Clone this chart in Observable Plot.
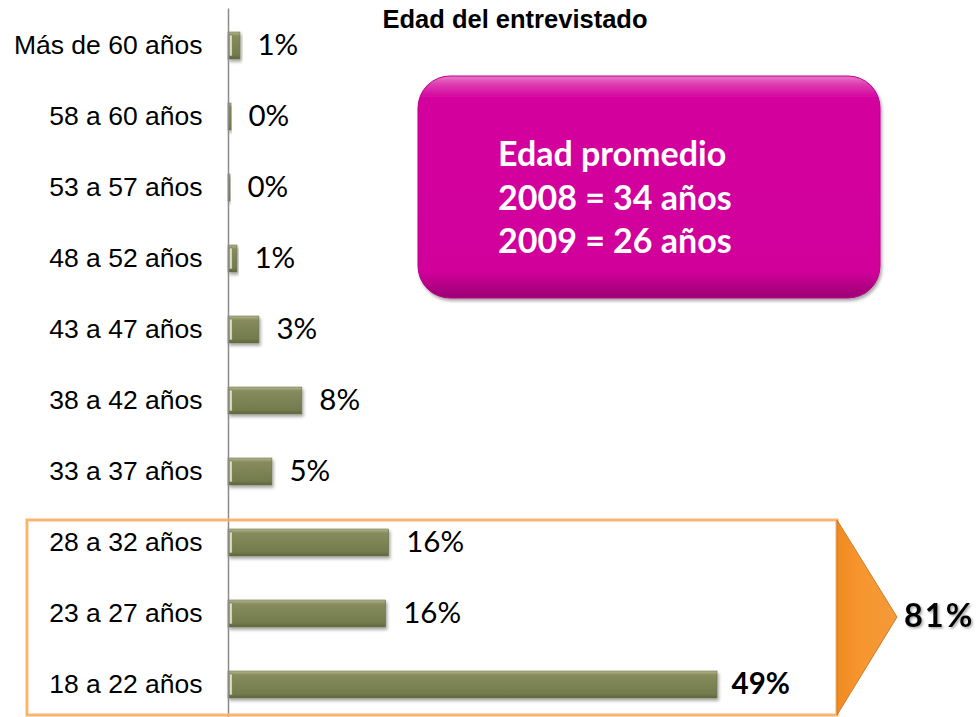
<!DOCTYPE html>
<html>
<head>
<meta charset="utf-8">
<script src="https://cdn.jsdelivr.net/npm/d3@7"></script>
<script src="https://cdn.jsdelivr.net/npm/@observablehq/plot@0.6"></script>
<style>
  html, body { margin: 0; padding: 0; background: #fff; }
  #chart svg { display: block; }
</style>
</head>
<body>
<div id="chart"></div>
<script>
const categories = ["Más de 60 años","58 a 60 años","53 a 57 años","48 a 52 años","43 a 47 años","38 a 42 años","33 a 37 años","28 a 32 años","23 a 27 años","18 a 22 años"];
const values = [1.2, 0.3, 0.2, 0.9, 3.1, 7.4, 4.4, 16.1, 15.8, 49.0];
const valueLabels = ["1%","0%","0%","1%","3%","8%","5%","16%","16%","49%"];
const boldLabel = [false,false,false,false,false,false,false,false,false,true];
const title = "Edad del entrevistado";
const boxLines = ["Edad promedio","2008 = 34 años","2009 = 26 años"];
const groupTotal = "81%";

const data = categories.map((c, i) => ({cat: c, value: values[i], label: valueLabels[i], bold: boldLabel[i]}));

const chart = Plot.plot({
  width: 980,
  height: 717,
  marginLeft: 228,
  marginRight: 0,
  marginTop: 24.4,
  marginBottom: 10.5,
  style: {background: "transparent", overflow: "visible"},
  x: {domain: [0, 75.35], axis: null},
  y: {domain: categories, paddingInner: 0.62, paddingOuter: 0.1, label: null},
  marks: [
    Plot.axisY({tickSize: 0, tickPadding: 26, fontSize: 26.5, fontFamily: "Liberation Sans, Arial, sans-serif", fill: "#000", label: null}),
    Plot.barX(data, {x: "value", y: "cat", fill: "url(#barGrad)", stroke: "#6d7347", strokeWidth: 0.6}),
    Plot.ruleX([0], {stroke: "#8a8a8a", strokeWidth: 1.5, insetTop: -16, insetBottom: -11}),
    Plot.text(data, {filter: d => !d.bold, x: "value", y: "cat", text: "label", dx: 17, textAnchor: "start", fontSize: 29.5, fontFamily: "Lato, sans-serif", fill: "#000"}),
    Plot.text(data, {filter: d => d.bold, x: "value", y: "cat", text: "label", dx: 14, textAnchor: "start", fontSize: 29.5, fontWeight: "bold", fontFamily: "Lato, sans-serif", fill: "#000"})
  ]
});

const svg = d3.select(chart);
const defs = svg.insert("defs", ":first-child");

const bg = defs.append("linearGradient").attr("id", "barGrad").attr("x1", 0).attr("y1", 0).attr("x2", 0).attr("y2", 1);
[[0, "#b4b88e"], [0.15, "#868c5e"], [0.5, "#7c8355"], [0.85, "#737a4d"], [1, "#5f643e"]].forEach(([o, c]) => bg.append("stop").attr("offset", o).attr("stop-color", c));

const sh = defs.append("filter").attr("id", "shadow").attr("x", "-20%").attr("y", "-30%").attr("width", "140%").attr("height", "170%");
sh.append("feDropShadow").attr("dx", 1.5).attr("dy", 2.5).attr("stdDeviation", 1.8).attr("flood-color", "#000").attr("flood-opacity", 0.35);

const mg = defs.append("linearGradient").attr("id", "magGrad").attr("x1", 0).attr("y1", 0).attr("x2", 0).attr("y2", 1);
[[0, "#e878c8"], [0.04, "#dc3ab0"], [0.1, "#d4009e"], [0.88, "#d1009b"], [1, "#9a0073"]].forEach(([o, c]) => mg.append("stop").attr("offset", o).attr("stop-color", c));

const og = defs.append("linearGradient").attr("id", "orGrad").attr("x1", 0).attr("y1", 0).attr("x2", 1).attr("y2", 0);
[[0, "#f08a22"], [0.4, "#f7962f"], [1, "#f39a3a"]].forEach(([o, c]) => og.append("stop").attr("offset", o).attr("stop-color", c));

const ts = defs.append("filter").attr("id", "txtShadow").attr("x", "-10%").attr("y", "-20%").attr("width", "130%").attr("height", "150%");
ts.append("feDropShadow").attr("dx", 1.5).attr("dy", 1.5).attr("stdDeviation", 1.2).attr("flood-color", "#000").attr("flood-opacity", 0.35);

svg.selectAll("g[aria-label=bar] rect").attr("filter", "url(#shadow)");

// light left-end highlight on each bar
svg.selectAll("g[aria-label=bar] rect").each(function() {
  const r = d3.select(this);
  const x = +r.attr("x"), y = +r.attr("y"), h = +r.attr("height"), w = +r.attr("width");
  if (w > 3) {
    d3.select(this.parentNode).append("rect")
      .attr("x", x + 1.2).attr("y", y + 3).attr("width", Math.min(3, w - 2)).attr("height", h - 6)
      .attr("fill", "#eef0cf").attr("opacity", 0.85);
  }
});

const ann = svg.append("g").attr("text-anchor", "start");
// title
ann.append("text").attr("x", 515).attr("y", 28).attr("text-anchor", "middle")
  .attr("font-family", "Liberation Sans, Arial, sans-serif").attr("font-weight", "bold").attr("font-size", 25.5)
  .attr("fill", "#000").text(title);

// magenta box
ann.append("rect").attr("x", 418).attr("y", 76).attr("width", 462).attr("height", 222).attr("rx", 32)
  .attr("fill", "url(#magGrad)").attr("stroke", "#b8008a").attr("stroke-width", 1).attr("filter", "url(#shadow)");
const bt = ann.append("text").attr("text-anchor", "start").attr("font-family", "Lato, sans-serif").attr("font-weight", "bold").attr("font-size", 34).attr("fill", "#fff");
boxLines.forEach((t, i) => bt.append("tspan").attr("x", 498).attr("y", 166 + i * 43.5).text(t));

// orange group box
ann.append("rect").attr("x", 27).attr("y", 520).attr("width", 810).attr("height", 195)
  .attr("fill", "none").attr("stroke", "#fac08a").attr("stroke-width", 4).attr("opacity", 0.6);
ann.append("rect").attr("x", 27).attr("y", 520).attr("width", 810).attr("height", 195)
  .attr("fill", "none").attr("stroke", "#f8a955").attr("stroke-width", 1.5);

// arrow
ann.append("polygon").attr("points", "837,520 897,617 837,715")
  .attr("fill", "url(#orGrad)").attr("stroke", "#d27a28").attr("stroke-width", 1);

ann.append("text").attr("x", 904).attr("y", 627).attr("text-anchor", "start")
  .attr("font-family", "Lato, sans-serif").attr("font-weight", "bold").attr("font-size", 32.5).attr("letter-spacing", 2)
  .attr("fill", "#000").attr("filter", "url(#txtShadow)").text(groupTotal);

document.getElementById("chart").appendChild(chart);
</script>
</body>
</html>
